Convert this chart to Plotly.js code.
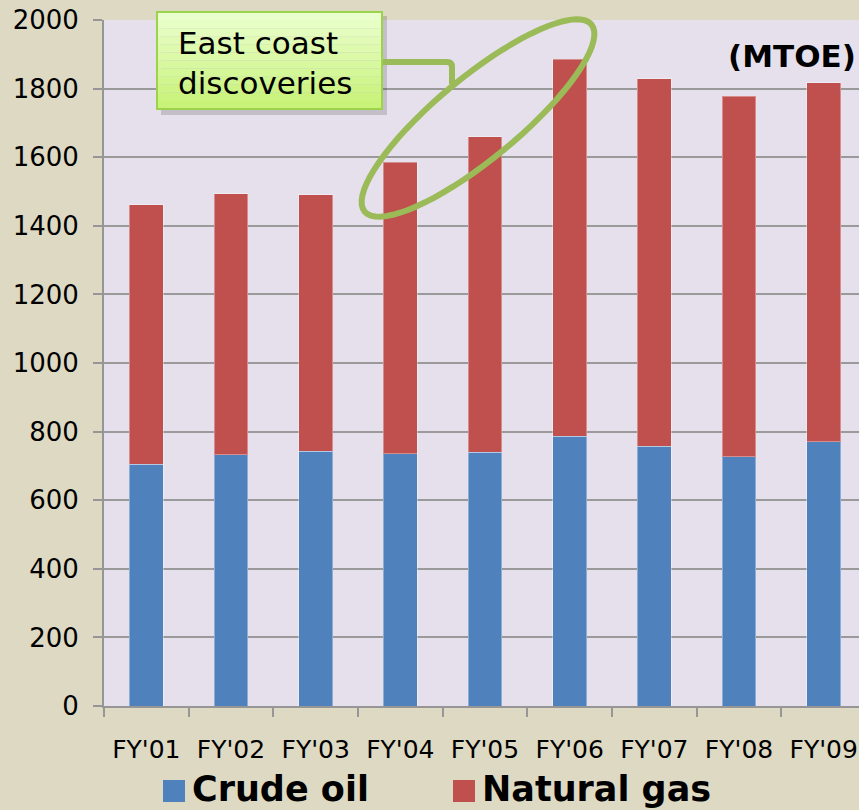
<!DOCTYPE html>
<html><head><meta charset="utf-8">
<script src="https://cdn.plot.ly/plotly-3.0.1.min.js"></script>
<style>html,body{margin:0;padding:0;overflow:hidden;background:#ddd9c3}</style>
</head><body><div id="chart" style="width:859px;height:810px"></div>
<script>
const categories = ["FY'01","FY'02","FY'03","FY'04","FY'05","FY'06","FY'07","FY'08","FY'09"];
const crudeOil   = [705, 733, 742, 735, 740, 787, 758, 726, 770];
const naturalGas = [757, 761, 749, 850, 920, 1098, 1071, 1052, 1047];
const seriesNames = ["Crude oil", "Natural gas"];
const seriesColors = ["#4f81bd", "#c0504d"];
const yTickVals = [0,200,400,600,800,1000,1200,1400,1600,1800,2000];
const unitLabel = "(MTOE)";
const calloutText = "East coast<br>discoveries";

const W=859, H=810, L=104, R=0, T=20, B=104;
const pw = W-L-R, ph = H-T-B;
const px = x => (x-L)/pw;
const py = y => (H-B-y)/ph;
const catW = 84.67;

const traces = [
  {type:'bar', x:categories, y:crudeOil, name:seriesNames[0],
   marker:{color:seriesColors[0], line:{color:'rgba(255,255,255,0.35)', width:1}}},
  {type:'bar', x:categories, y:naturalGas, name:seriesNames[1],
   marker:{color:seriesColors[1], line:{color:'rgba(255,255,255,0.35)', width:1}}}
];

const shapes = [];
// callout shadow
shapes.push({type:'rect', xref:'paper', yref:'paper', x0:px(161), x1:px(387), y0:py(16), y1:py(115),
  fillcolor:'rgba(0,0,0,0.15)', line:{width:0}, layer:'above'});
// callout gradient box
const bx0=157, bx1=382, by0=12, by1=109, nb=12;
const c0=[234,255,205], c1=[200,242,120];
for(let i=0;i<nb;i++){
  const f=i/(nb-1);
  const c=c0.map((v,k)=>Math.round(v+(c1[k]-v)*f));
  shapes.push({type:'rect', xref:'paper', yref:'paper', x0:px(bx0), x1:px(bx1),
    y0:py(by0+(by1-by0)*i/nb), y1:py(by0+(by1-by0)*(i+1)/nb),
    fillcolor:`rgb(${c.join(',')})`, line:{width:0}, layer:'above'});
}
shapes.push({type:'rect', xref:'paper', yref:'paper', x0:px(bx0), x1:px(bx1), y0:py(by0), y1:py(by1),
  fillcolor:'rgba(0,0,0,0)', line:{color:'#9bd44a', width:2}, layer:'above'});
// connector
const p = (x,y)=>`${px(x)},${py(y)}`;
shapes.push({type:'path', xref:'paper', yref:'paper', layer:'above',
  path:`M ${p(383,62)} L ${p(447,62)} Q ${p(452,62)} ${p(452,67)} L ${p(452,84)}`,
  line:{color:'#9bbb59', width:6}});
// ellipse
const ecx=478, ecy=118, ea=147, eb=41, phi=-39.5*Math.PI/180;
const ux=Math.cos(phi), uy=Math.sin(phi), nx=-Math.sin(phi), ny=Math.cos(phi);
let ep='';
for(let i=0;i<=72;i++){
  const t=2*Math.PI*i/72;
  const x=ecx+ea*Math.cos(t)*ux+eb*Math.sin(t)*nx;
  const y=ecy+ea*Math.cos(t)*uy+eb*Math.sin(t)*ny;
  ep += (i===0?'M ':' L ')+p(x,y);
}
ep += ' Z';
shapes.push({type:'path', xref:'paper', yref:'paper', layer:'above', path:ep,
  line:{color:'#9bbb59', width:6}, fillcolor:'rgba(0,0,0,0)'});
// legend squares
shapes.push({type:'rect', xref:'paper', yref:'paper', x0:px(163), x1:px(185), y0:py(780), y1:py(802),
  fillcolor:seriesColors[0], line:{width:0}});
shapes.push({type:'rect', xref:'paper', yref:'paper', x0:px(453), x1:px(475), y0:py(780), y1:py(802),
  fillcolor:seriesColors[1], line:{width:0}});

const annotations = [
  {xref:'paper', yref:'paper', x:px(176), y:py(23), xanchor:'left', yanchor:'top', align:'left',
   text:calloutText, showarrow:false, font:{family:'DejaVu Sans', size:31, color:'#000'}},
  {xref:'paper', yref:'paper', x:px(858), y:py(56), xanchor:'right', yanchor:'middle',
   text:'<b>'+unitLabel+'</b>', showarrow:false, font:{family:'DejaVu Sans', size:31, color:'#000'}},
  {xref:'paper', yref:'paper', x:px(190), y:py(789), xanchor:'left', yanchor:'middle',
   text:'<b>'+seriesNames[0]+'</b>', showarrow:false, font:{family:'DejaVu Sans', size:35, color:'#000'}},
  {xref:'paper', yref:'paper', x:px(480), y:py(789), xanchor:'left', yanchor:'middle',
   text:'<b>'+seriesNames[1]+'</b>', showarrow:false, font:{family:'DejaVu Sans', size:35, color:'#000'}}
];

const layout = {
  width:W, height:H, margin:{l:L, r:R, t:T, b:B, pad:0},
  paper_bgcolor:'#ddd9c3', plot_bgcolor:'#e6e0ec',
  barmode:'stack', bargap:0.6, showlegend:false,
  xaxis:{type:'category', range:[-0.5, -0.5+pw/catW], fixedrange:true,
    showline:true, linecolor:'#969696', linewidth:2,
    ticks:'outside', tickson:'boundaries', ticklen:9, tickcolor:'#969696', tickwidth:2,
    showgrid:false, tickfont:{family:'DejaVu Sans', size:25, color:'#000'}, ticklabelstandoff:20},
  yaxis:{range:[0,2000], tickvals:yTickVals, fixedrange:true,
    showline:true, linecolor:'#969696', linewidth:2, zeroline:false,
    ticks:'outside', ticklen:9, tickcolor:'#969696', tickwidth:2,
    showgrid:true, gridcolor:'#9a9a9a', gridwidth:2,
    tickfont:{family:'DejaVu Sans', size:26, color:'#000'}, ticklabelstandoff:9},
  shapes, annotations
};
Plotly.newPlot('chart', traces, layout, {displayModeBar:false, staticPlot:true});
</script></body></html>
